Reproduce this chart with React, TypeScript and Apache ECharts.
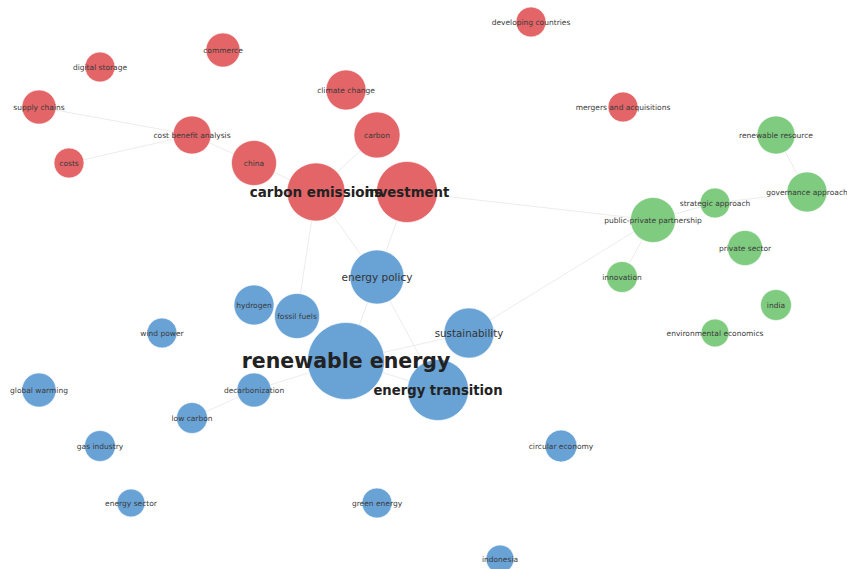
import React, { useEffect, useRef } from "react";
import * as echarts from "echarts";

// Node names by community
const redNodes = [
  "developing countries", "commerce", "digital storage", "climate change",
  "mergers and acquisitions", "supply chains", "carbon", "cost benefit analysis",
  "costs", "china", "carbon emissions", "investment",
];
const greenNodes = [
  "renewable resource", "governance approach", "strategic approach",
  "public-private partnership", "private sector", "innovation", "india",
  "environmental economics",
];
const blueNodes = [
  "energy policy", "hydrogen", "fossil fuels", "wind power", "sustainability",
  "renewable energy", "global warming", "decarbonization", "energy transition",
  "low carbon", "gas industry", "circular economy", "energy sector",
  "green energy", "indonesia",
];

// Layout positions (x, y)
const nodeX: Record<string, number> = {
  "developing countries": 531, commerce: 223, "digital storage": 100, "climate change": 346,
  "mergers and acquisitions": 623, "supply chains": 39, carbon: 377, "cost benefit analysis": 192,
  costs: 69, china: 254, "carbon emissions": 316, investment: 407,
  "renewable resource": 776, "governance approach": 807, "strategic approach": 715,
  "public-private partnership": 653, "private sector": 745, innovation: 622, india: 776,
  "environmental economics": 715,
  "energy policy": 377, hydrogen: 254, "fossil fuels": 297, "wind power": 162,
  sustainability: 469, "renewable energy": 346, "global warming": 39, decarbonization: 254,
  "energy transition": 438, "low carbon": 192, "gas industry": 100, "circular economy": 561,
  "energy sector": 131, "green energy": 377, indonesia: 500,
};
const nodeY: Record<string, number> = {
  "developing countries": 22, commerce: 50, "digital storage": 67, "climate change": 90,
  "mergers and acquisitions": 107, "supply chains": 107, carbon: 135, "cost benefit analysis": 135,
  costs: 163, china: 163, "carbon emissions": 192, investment: 192,
  "renewable resource": 135, "governance approach": 192, "strategic approach": 203,
  "public-private partnership": 220, "private sector": 248, innovation: 277, india: 305,
  "environmental economics": 333,
  "energy policy": 277, hydrogen: 305, "fossil fuels": 316, "wind power": 333,
  sustainability: 333, "renewable energy": 361, "global warming": 390, decarbonization: 390,
  "energy transition": 390, "low carbon": 418, "gas industry": 446, "circular economy": 446,
  "energy sector": 503, "green energy": 503, indonesia: 559,
};
// Node weights (diameter)
const nodeWeight: Record<string, number> = {
  "developing countries": 30, commerce: 34, "digital storage": 30, "climate change": 40,
  "mergers and acquisitions": 30, "supply chains": 34, carbon: 46, "cost benefit analysis": 38,
  costs: 30, china: 45, "carbon emissions": 58, investment: 61,
  "renewable resource": 38, "governance approach": 40, "strategic approach": 30,
  "public-private partnership": 45, "private sector": 35, innovation: 31, india: 31,
  "environmental economics": 28,
  "energy policy": 54, hydrogen: 40, "fossil fuels": 45, "wind power": 30,
  sustainability: 50, "renewable energy": 77, "global warming": 34, decarbonization: 34,
  "energy transition": 61, "low carbon": 31, "gas industry": 31, "circular economy": 32,
  "energy sector": 28, "green energy": 30, indonesia: 28,
};

const edgeSources = [
  "supply chains", "costs", "cost benefit analysis", "china", "carbon",
  "carbon emissions", "investment", "investment", "carbon emissions", "carbon emissions",
  "energy policy", "energy policy", "renewable energy", "renewable energy",
  "decarbonization", "decarbonization", "sustainability", "public-private partnership",
  "public-private partnership", "strategic approach", "renewable resource",
];
const edgeTargets = [
  "cost benefit analysis", "cost benefit analysis", "china", "carbon emissions", "carbon emissions",
  "investment", "public-private partnership", "energy policy", "energy policy", "fossil fuels",
  "renewable energy", "energy transition", "sustainability", "energy transition",
  "low carbon", "renewable energy", "public-private partnership", "innovation",
  "strategic approach", "governance approach", "governance approach",
];

const boldLabels: Record<string, number> = {
  "renewable energy": 20.5,
  "carbon emissions": 13.5,
  investment: 13.3,
  "energy transition": 13.2,
};
const mediumLabels: Record<string, number> = {
  "energy policy": 10.5,
  sustainability: 10.3,
};

const RED = "#e36567";
const GREEN = "#7fcb7f";
const BLUE = "#69a3d6";

export default function App() {
  const ref = useRef<HTMLDivElement>(null);
  useEffect(() => {
    if (!ref.current) return;
    const chart = echarts.init(ref.current, null, { renderer: "svg" });
    const mk = (name: string, color: string) => {
      const bold = boldLabels[name];
      const med = mediumLabels[name];
      return {
        name,
        value: [nodeX[name], nodeY[name]],
        symbolSize: nodeWeight[name],
        itemStyle: { color, borderColor: "rgba(255,255,255,0.6)", borderWidth: 1 },
        label: {
          show: true,
          position: "inside",
          fontFamily: "DejaVu Sans",
          fontSize: bold ? bold : med ? med : 7.5,
          fontWeight: bold ? "bold" : "normal",
          color: bold ? "#222" : med ? "#333" : "#3a3a3a",
        },
      };
    };
    const data = [
      ...redNodes.map((n) => mk(n, RED)),
      ...greenNodes.map((n) => mk(n, GREEN)),
      ...blueNodes.map((n) => mk(n, BLUE)),
    ];
    const links = edgeSources.map((s, i) => ({ source: s, target: edgeTargets[i] }));
    chart.setOption({
      animation: false,
      backgroundColor: "#ffffff",
      grid: { left: 0, right: 0, top: 0, bottom: 0 },
      xAxis: { type: "value", min: 0, max: 847, show: false },
      yAxis: { type: "value", min: 0, max: 569, inverse: true, show: false },
      series: [
        {
          type: "graph",
          coordinateSystem: "cartesian2d",
          symbol: "circle",
          data,
          links,
          lineStyle: { color: "#d4d4d4", width: 1, opacity: 0.45, curveness: 0 },
          emphasis: { disabled: true },
          silent: true,
        },
      ],
    });
    return () => chart.dispose();
  }, []);
  return (
    <div
      ref={ref}
      style={{ position: "fixed", left: 0, top: 0, width: 847, height: 569 }}
    />
  );
}
